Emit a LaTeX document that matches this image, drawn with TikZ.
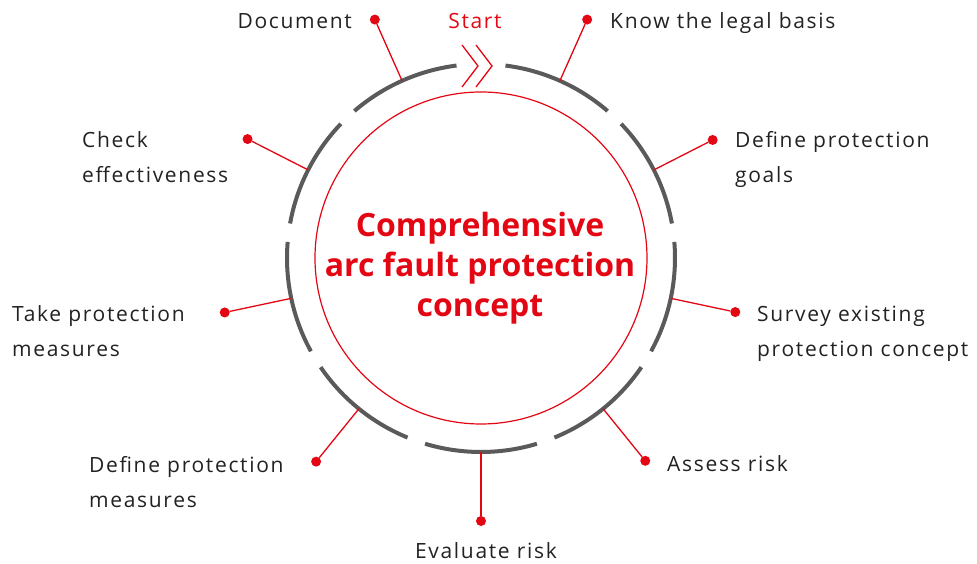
\documentclass[tikz,border=0pt]{standalone}
\usepackage{fontspec}
\setmainfont{Open Sans}
\newfontfamily\lblfont[LetterSpace=8]{Open Sans}
\usepackage{xcolor}
\definecolor{arcRed}{HTML}{E30613}
\definecolor{ringGray}{HTML}{5A5A5A}
\definecolor{txtGray}{HTML}{222222}
\tikzset{
dot/.style = {circle, fill=arcRed, minimum size=#1,
              inner sep=0pt, outer sep=0pt},
dot/.default = 10pt % size of the dot diameter
}
\tikzset{
seg/.style = {draw=ringGray, line width=4pt},
link/.style = {draw=arcRed, line width=1.3pt}
}
\tikzset{
lbl/.style = {text=txtGray, font=\lblfont\fontsize{21}{35}\selectfont, align=left, inner sep=0pt},
title/.style = {text=arcRed, font=\fontsize{32}{40}\selectfont\bfseries, align=center, inner sep=0pt}
}
\begin{document}
\begin{tikzpicture}[x=1pt, y=1pt]
    \useasboundingbox (-481,-306) rectangle (496,258);

    \draw[arcRed, line width=1.2pt] (0,0) circle (166);
    % base anchor sits on the last line
    \node[title, anchor=base] (titleText) at (-1,-59) {Comprehensive\\arc fault protection\\concept};

    % ring segments
    \draw[seg] (49.25:194) arc (49.25:82.75:194);
    \draw[seg] (10.25:194) arc (10.25:43.75:194);
    \draw[seg] (-28.75:194) arc (-28.75:4.75:194);
    \draw[seg] (-67.75:194) arc (-67.75:-34.25:194);
    \draw[seg] (-106.75:194) arc (-106.75:-73.25:194);
    \draw[seg] (-145.75:194) arc (-145.75:-112.25:194);
    \draw[seg] (-184.75:194) arc (-184.75:-151.25:194);
    \draw[seg] (-223.75:194) arc (-223.75:-190.25:194);
    \draw[seg] (-262.75:194) arc (-262.75:-229.25:194);

    % start mark
    \node[text=arcRed, font=\lblfont\fontsize{21}{35}\selectfont, inner sep=0pt, anchor=base] (start) at (-6,229) {Start};
    \draw[arcRed, line width=1.3pt] (-19,213) -- (-3,192) -- (-19,171);
    \draw[arcRed, line width=1.3pt] (-5,213) -- (11,192) -- (-5,171);

    \coordinate (ringKnow) at (66:194);
    \coordinate (ringGoals) at (27:194);
    \coordinate (ringSurvey) at (-12:194);
    \coordinate (ringAssess) at (-51:194);
    \coordinate (ringEval) at (-90:194);
    \coordinate (ringDefMeas) at (-129:194);
    \coordinate (ringTake) at (-168:194);
    \coordinate (ringCheck) at (153:194);
    \coordinate (ringDoc) at (114:194);

    \node[dot] (dotKnow) at (66:261) {};
    \node[dot] (dotGoals) at (27:260) {};
    \node[dot] (dotSurvey) at (-12:260) {};
    \node[dot] (dotAssess) at (-51:261) {};
    \node[dot] (dotEval) at (-90:263) {};
    \node[dot] (dotDefMeas) at (-129:262) {};
    \node[dot] (dotTake) at (-168:262) {};
    \node[dot] (dotCheck) at (153:262) {};
    \node[dot] (dotDoc) at (114:261) {};

    \draw[link] (ringKnow) -- (dotKnow);
    \draw[link] (ringGoals) -- (dotGoals);
    \draw[link] (ringSurvey) -- (dotSurvey);
    \draw[link] (ringAssess) -- (dotAssess);
    \draw[link] (ringEval) -- (dotEval);
    \draw[link] (ringDefMeas) -- (dotDefMeas);
    \draw[link] (ringTake) -- (dotTake);
    \draw[link] (ringCheck) -- (dotCheck);
    \draw[link] (ringDoc) -- (dotDoc);

    \node[lbl, anchor=base west] (txtKnow) at (129,229) {Know the legal basis};
    \node[lbl, anchor=base west] (txtGoals) at (254,75) {Define protection\\goals};
    \node[lbl, anchor=base west] (txtSurvey) at (276,-99) {Survey existing\\protection concept};
    \node[lbl, anchor=base west] (txtAssess) at (186,-214) {Assess risk};
    \node[lbl, anchor=base] (txtEval) at (5,-300) {Evaluate risk};
    \node[lbl, anchor=base west] (txtDefMeas) at (-392,-249) {Define protection\\measures};
    \node[lbl, anchor=base west] (txtTake) at (-469,-99) {Take protection\\measures};
    \node[lbl, anchor=base west] (txtCheck) at (-399,75) {Check\\effectiveness};
    \node[lbl, anchor=base east] (txtDoc) at (-129,229) {Document};
\end{tikzpicture}
\end{document}
